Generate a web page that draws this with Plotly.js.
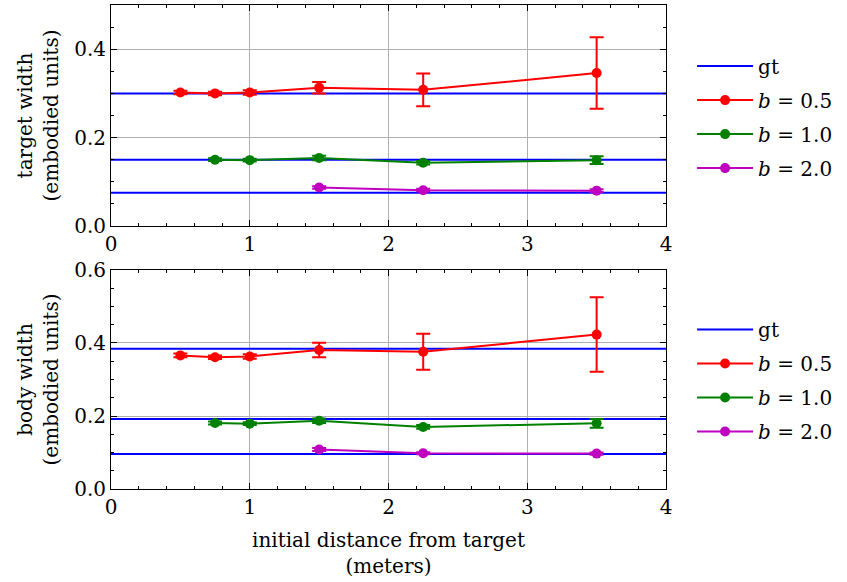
<!DOCTYPE html>
<html>
<head>
<meta charset="utf-8">
<script src="https://cdn.plot.ly/plotly-3.0.1.min.js"></script>
<style>html,body{margin:0;padding:0;background:#fff;}</style>
</head>
<body>
<div id="chart" style="width:847px;height:582px;"></div>
<script>
// ---- data ----
const xB05 = [0.5, 0.75, 1.0, 1.5, 2.25, 3.5];
const xB10 = [0.75, 1.0, 1.5, 2.25, 3.5];
const xB20 = [1.5, 2.25, 3.5];

const gtTarget = [0.3, 0.15, 0.075];
const gtBody = [0.384, 0.192, 0.096];
const gtX = [0, 4];

const targetB05 = [0.302, 0.300, 0.302, 0.313, 0.308, 0.346];
const targetB05Err = [0.004, 0.004, 0.005, 0.013, 0.037, 0.081];
const targetB10 = [0.150, 0.149, 0.154, 0.143, 0.149];
const targetB10Err = [0.003, 0.003, 0.005, 0.004, 0.009];
const targetB20 = [0.087, 0.081, 0.080];
const targetB20Err = [0.003, 0.003, 0.003];

const bodyB05 = [0.366, 0.361, 0.363, 0.381, 0.376, 0.423];
const bodyB05Err = [0.005, 0.005, 0.006, 0.020, 0.049, 0.102];
const bodyB10 = [0.181, 0.179, 0.187, 0.170, 0.180];
const bodyB10Err = [0.004, 0.004, 0.006, 0.005, 0.012];
const bodyB20 = [0.108, 0.098, 0.097];
const bodyB20Err = [0.004, 0.003, 0.003];

const seriesNames = ['gt', '<i>b</i> = 0.5', '<i>b</i> = 1.0', '<i>b</i> = 2.0'];
const colors = ['#0000ff', '#ff0000', '#008000', '#bf00bf'];

// ---- build traces ----
const FONT = '"DejaVu Serif", "Liberation Serif", serif';
const FS = 20;
function gtTraces(vals, xa, ya, leg) {
  return vals.map((v, i) => ({
    x: gtX, y: [v, v], xaxis: xa, yaxis: ya, mode: 'lines',
    line: {color: colors[0], width: 2},
    name: seriesNames[0], showlegend: i === 0, legend: leg,
    legendgroup: leg + 'gt', hoverinfo: 'skip'
  }));
}
function ser(x, y, e, ci, xa, ya, leg) {
  return {
    x: x, y: y, xaxis: xa, yaxis: ya, mode: 'lines+markers',
    line: {color: colors[ci], width: 2},
    marker: {color: colors[ci], size: 10},
    error_y: {type: 'data', array: e, visible: true, color: colors[ci], thickness: 2, width: 7},
    name: seriesNames[ci], legend: leg, legendgroup: leg + ci
  };
}

const traces = [].concat(
  gtTraces(gtTarget, 'x', 'y', 'legend'),
  [ser(xB05, targetB05, targetB05Err, 1, 'x', 'y', 'legend'),
   ser(xB10, targetB10, targetB10Err, 2, 'x', 'y', 'legend'),
   ser(xB20, targetB20, targetB20Err, 3, 'x', 'y', 'legend')],
  gtTraces(gtBody, 'x2', 'y2', 'legend2'),
  [ser(xB05, bodyB05, bodyB05Err, 1, 'x2', 'y2', 'legend2'),
   ser(xB10, bodyB10, bodyB10Err, 2, 'x2', 'y2', 'legend2'),
   ser(xB20, bodyB20, bodyB20Err, 3, 'x2', 'y2', 'legend2')]
);

function xax(anchor, title) {
  const a = {
    anchor: anchor, range: [0, 4], dtick: 1, tick0: 0,
    showline: true, linecolor: '#000', linewidth: 1, mirror: 'allticks',
    ticks: 'inside', ticklen: 6, tickwidth: 1, tickcolor: '#000',
    minor: {ticks: 'inside', dtick: 0.2, ticklen: 3, tickcolor: '#000', showgrid: false},
    showgrid: true, gridcolor: '#b0b0b0', gridwidth: 1, zeroline: false,
    tickfont: {family: FONT, size: FS, color: '#000'}
  };
  if (title) a.title = {text: title, font: {family: FONT, size: FS, color: '#000'}, standoff: 14};
  return a;
}
function yax(anchor, dom, rng, title) {
  return {
    anchor: anchor, domain: dom, range: rng, dtick: 0.2, tick0: 0, tickformat: '.1f',
    showline: true, linecolor: '#000', linewidth: 1, mirror: 'allticks',
    ticks: 'inside', ticklen: 6, tickwidth: 1, tickcolor: '#000',
    minor: {ticks: 'inside', dtick: 0.05, ticklen: 3, tickcolor: '#000', showgrid: false},
    showgrid: true, gridcolor: '#b0b0b0', gridwidth: 1, zeroline: false,
    tickfont: {family: FONT, size: FS, color: '#000'},
    title: {text: title, font: {family: FONT, size: FS, color: '#000'}, standoff: 10}
  };
}

const legendStyle = {
  font: {family: FONT, size: FS, color: '#000'}, bgcolor: 'rgba(0,0,0,0)',
  xanchor: 'left', yanchor: 'top', tracegroupgap: 5, traceorder: 'grouped',
  itemwidth: 56
};

const layout = {
  width: 847, height: 582,
  margin: {l: 111, r: 181, t: 5, b: 93, autoexpand: false},
  paper_bgcolor: '#fff', plot_bgcolor: '#fff',
  font: {family: FONT, color: '#000'},
  xaxis: xax('y', null),
  yaxis: yax('x', [0.5434, 1], [0, 0.5], 'target width<br>(embodied units)'),
  xaxis2: xax('y2', 'initial distance from target<br>(meters)'),
  yaxis2: yax('x2', [0, 0.4525], [0, 0.6], 'body width<br>(embodied units)'),
  legend: Object.assign({x: 1.047, y: 0.914}, legendStyle),
  legend2: Object.assign({x: 1.047, y: 0.370}, legendStyle),
  showlegend: true
};

Plotly.newPlot('chart', traces, layout, {displayModeBar: false, staticPlot: true});
</script>
</body>
</html>
